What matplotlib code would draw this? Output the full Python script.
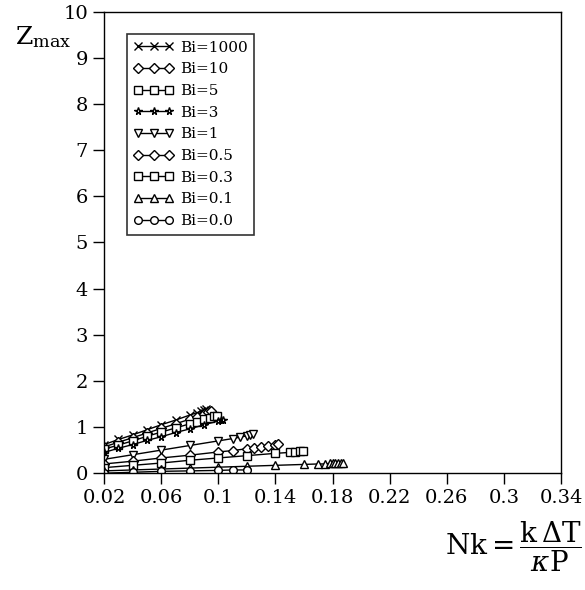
import matplotlib
matplotlib.use("Agg")
import matplotlib.pyplot as plt

# values
NK_1000 = [0.02, 0.03, 0.04, 0.05, 0.06, 0.07, 0.08, 0.085, 0.088, 0.09, 0.091]
Z_1000 = [0.62, 0.73, 0.83, 0.94, 1.05, 1.15, 1.26, 1.31, 1.35, 1.38, 1.40]
NK_10 = [0.02, 0.03, 0.04, 0.05, 0.06, 0.07, 0.08, 0.085, 0.09, 0.093, 0.095]
Z_10 = [0.57, 0.67, 0.77, 0.87, 0.97, 1.07, 1.17, 1.22, 1.28, 1.32, 1.34]
NK_5 = [0.02, 0.03, 0.04, 0.05, 0.06, 0.07, 0.08, 0.085, 0.09, 0.094, 0.097, 0.099]
Z_5 = [0.52, 0.61, 0.70, 0.80, 0.89, 0.98, 1.07, 1.12, 1.17, 1.20, 1.23, 1.25]
NK_3 = [0.02, 0.03, 0.04, 0.05, 0.06, 0.07, 0.08, 0.09, 0.1, 0.102, 0.103]
Z_3 = [0.45, 0.54, 0.62, 0.71, 0.79, 0.88, 0.96, 1.05, 1.13, 1.15, 1.16]
NK_1 = [0.02, 0.04, 0.06, 0.08, 0.1, 0.11, 0.115, 0.12, 0.122, 0.124]
Z_1 = [0.30, 0.40, 0.50, 0.60, 0.70, 0.75, 0.78, 0.81, 0.83, 0.85]
NK_05 = [0.02, 0.04, 0.06, 0.08, 0.1, 0.11, 0.12, 0.125, 0.13, 0.135, 0.14, 0.142]
Z_05 = [0.20, 0.26, 0.33, 0.39, 0.46, 0.49, 0.53, 0.55, 0.57, 0.59, 0.61, 0.63]
NK_03 = [0.02, 0.04, 0.06, 0.08, 0.1, 0.12, 0.14, 0.15, 0.154, 0.157, 0.159]
Z_03 = [0.12, 0.17, 0.22, 0.28, 0.33, 0.38, 0.43, 0.45, 0.46, 0.47, 0.47]
NK_01 = [0.02, 0.04, 0.06, 0.08, 0.1, 0.12, 0.14, 0.16, 0.17, 0.175, 0.178,
         0.18, 0.182, 0.184, 0.186, 0.187]
Z_01 = [0.05, 0.07, 0.09, 0.11, 0.13, 0.15, 0.17, 0.19, 0.20, 0.20, 0.21,
        0.21, 0.21, 0.22, 0.22, 0.22]
NK_00 = [0.02, 0.04, 0.06, 0.08, 0.1, 0.11, 0.12]
Z_00 = [0.0, 0.02, 0.04, 0.05, 0.06, 0.07, 0.07]

LABELS = ["Bi=1000", "Bi=10", "Bi=5", "Bi=3", "Bi=1", "Bi=0.5", "Bi=0.3", "Bi=0.1", "Bi=0.0"]
SERIES = [(NK_1000, Z_1000), (NK_10, Z_10), (NK_5, Z_5), (NK_3, Z_3), (NK_1, Z_1),
          (NK_05, Z_05), (NK_03, Z_03), (NK_01, Z_01), (NK_00, Z_00)]
MARKERS = ["x", "D", "s", "*", "v", "D", "s", "^", "o"]

X_TICKS = [0.02, 0.06, 0.1, 0.14, 0.18, 0.22, 0.26, 0.3, 0.34]
X_TICK_LABELS = ["0.02", "0.06", "0.1", "0.14", "0.18", "0.22", "0.26", "0.3", "0.34"]

plt.rcParams.update({
    "font.family": "DejaVu Serif",
    "mathtext.fontset": "dejavuserif",
    "font.size": 13,
})

fig = plt.figure(figsize=(5.85, 5.9), dpi=100)
ax = fig.add_axes([0.178, 0.198, 0.781, 0.782])

for (x, y), label, marker in zip(SERIES, LABELS, MARKERS):
    ax.plot(x, y, color="black", linewidth=1.0, marker=marker, markersize=5.5,
            markerfacecolor="white", markeredgecolor="black", markeredgewidth=1.0,
            label=label)

ax.set_xlim(0.02, 0.34)
ax.set_ylim(0, 10)
ax.set_xticks(X_TICKS)
ax.set_xticklabels(X_TICK_LABELS)
ax.set_yticks(range(0, 11))
ax.tick_params(direction="out", length=8, width=1.0, labelsize=14, top=False, right=False)
for spine in ax.spines.values():
    spine.set_linewidth(1.0)

fig.text(0.025, 0.925, r"$\mathrm{Z}_{\mathrm{max}}$", fontsize=18)
fig.text(0.995, 0.06, r"$\mathrm{Nk}=\dfrac{\mathrm{k}\,\Delta\mathrm{T}}{\kappa\mathrm{P}}$",
         fontsize=20, ha="right")

leg = ax.legend(loc="upper left", bbox_to_anchor=(0.05, 0.952), numpoints=3,
                handlelength=2.6, handletextpad=0.4, labelspacing=0.5,
                borderpad=0.45, borderaxespad=0.0, fancybox=False,
                edgecolor="black", fontsize=11)
leg.get_frame().set_linewidth(1.2)

fig.savefig("out.png", dpi=100)
